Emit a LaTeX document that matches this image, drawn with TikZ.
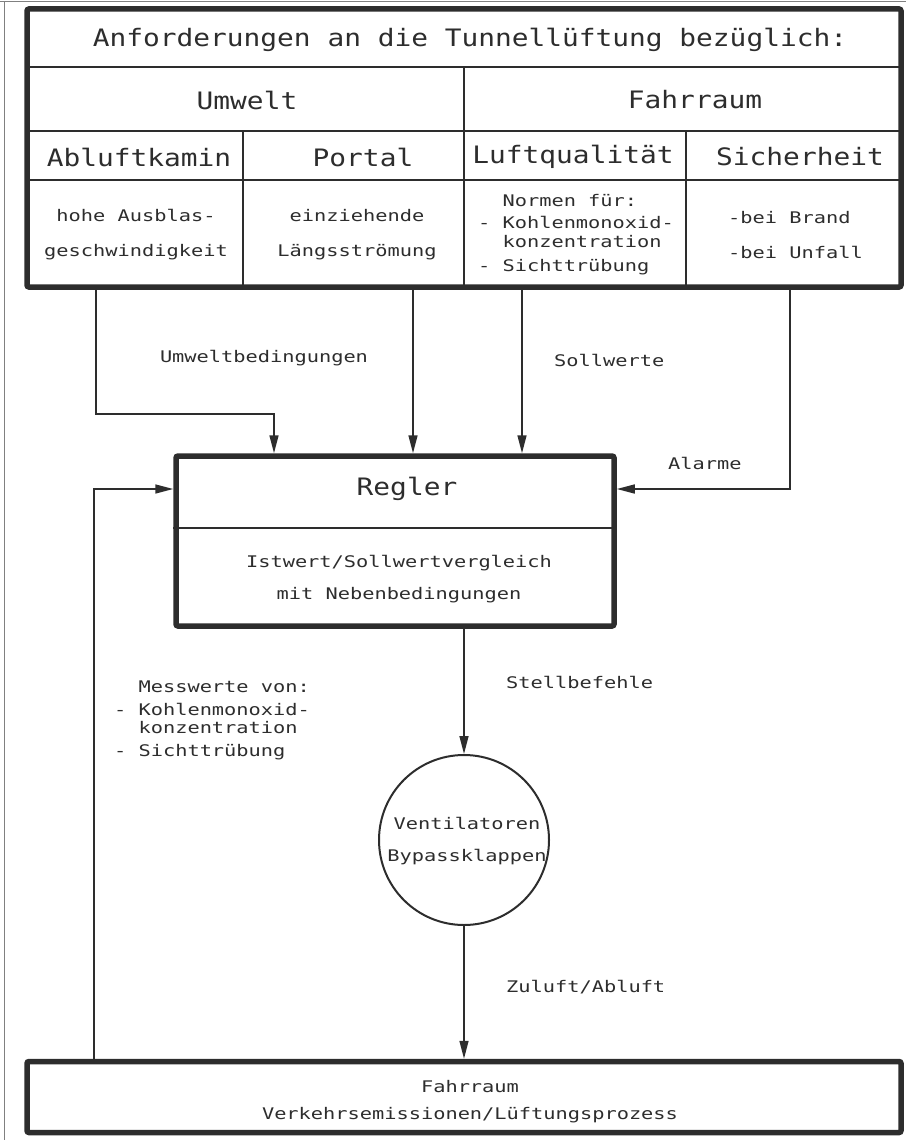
\documentclass[tikz,border=0pt]{standalone}
\usepackage{fontspec}
\setmainfont[FakeStretch=1.16]{DejaVu Sans Mono}
\newfontfamily\smallcad[FakeStretch=1.27]{DejaVu Sans Mono}
\usetikzlibrary{arrows.meta}

\definecolor{ink}{RGB}{45,45,45}

\tikzset{
  frame/.style={draw=ink, line width=5.5pt, rounded corners=2pt, inner sep=0pt},
  cell/.style={draw=ink, line width=2pt},
  conn/.style={draw=ink, line width=1.5pt},
  arr/.style={conn, -{Triangle[length=18pt,width=9pt]}},
  bigtxt/.style={inner sep=0pt, text=ink, font=\fontsize{24}{28}\selectfont},
  smalltxt/.style={inner sep=0pt, text=ink, align=center, font=\smallcad\fontsize{16}{19}\selectfont},
}

\begin{document}
\begin{tikzpicture}[x=1pt,y=1pt,yscale=-1]
\useasboundingbox (0,0) rectangle (906,1140);

%Shape: page border of the scan
\draw [color=gray, line width=1pt] (0,2) -- (906,2) (4,2) -- (4,1140) ;

%Shape: requirements table
\node [frame, minimum width=874pt, minimum height=278pt] (req) at (464,148) {};
\draw [cell] (27,67) -- (901,67) (27,131) -- (901,131) (27,180) -- (901,180) ;
\draw [cell] (464,67) -- (464,287) (243,131) -- (243,287) (686,131) -- (686,287) ;

% Text Node
\node [bigtxt] (title) at (470,40) {Anforderungen an die Tunnellüftung bezüglich:};
% Text Node
\node [bigtxt] (umwelt) at (247,100) {Umwelt};
\node [bigtxt] (fahrraum) at (695,100) {Fahrraum};
% Text Node
\node [bigtxt] (abluft) at (139,157) {Abluftkamin};
\node [bigtxt] (portal) at (363,157) {Portal};
\node [bigtxt] (luft) at (573,157) {Luftqualität};
\node [bigtxt] (sicher) at (800,157) {Sicherheit};
% Text Node
\node [smalltxt, font=\smallcad\fontsize{16}{35}\selectfont] (abltxt) at (136,235) {hohe Ausblas-\\geschwindigkeit};
\node [smalltxt, font=\smallcad\fontsize{16}{35}\selectfont] (portxt) at (357,235) {einziehende\\Längsströmung};
\node [smalltxt, align=left] (lufttxt) at (576,235) {\hphantom{- }Normen für:\\[3pt]- Kohlenmonoxid-\\\hphantom{- }konzentration\\[5pt]- Sichttrübung};
\node [smalltxt, align=left, font=\smallcad\fontsize{16}{35}\selectfont, anchor=west] (sichtxt) at (728,235) {-bei Brand\\-bei Unfall};

%Shape: Regler
\node [frame, minimum width=438pt, minimum height=170pt] (regler) at (395,541) {};
\draw [cell] (regler.west |- 0,528) -- (regler.east |- 0,528) ;
\node [bigtxt] (reglertxt) at (407,489) {Regler};
\node [smalltxt, font=\smallcad\fontsize{16}{32}\selectfont] (vergleich) at (399,579) {Istwert/Sollwertvergleich\\mit Nebenbedingungen};

%Shape: Ventilatoren
\node [circle, draw=ink, line width=2pt, minimum size=170pt, inner sep=0pt] (vent) at (464,840) {};
\node [smalltxt, font=\smallcad\fontsize{16}{32}\selectfont] (venttxt) at (467,841) {Ventilatoren\\Bypassklappen};

%Shape: Fahrraum
\node [frame, minimum width=874pt, minimum height=71pt] (road) at (464,1097) {};
\node [smalltxt, font=\smallcad\fontsize{16}{27}\selectfont] (roadtxt) at (470,1102) {Fahrraum\\Verkehrsemissionen/Lüftungsprozess};

%Straight Lines: connectors
\coordinate (uA) at (96,287) ;
\coordinate (pB) at (413,287) ;
\coordinate (lC) at (522,287) ;
\coordinate (sD) at (790,287) ;
\draw [arr] (uA) -- ++(0,127) -| ([xshift=-121pt]regler.north) ;
\draw [arr] (pB) -- ([xshift=18pt]regler.north) ;
\draw [arr] (lC) -- ([xshift=127pt]regler.north) ;
\draw [arr] (sD) |- ([yshift=-52pt]regler.east) ;
\draw [arr] ([xshift=-370pt]road.north) |- ([yshift=-52pt]regler.west) ;
\draw [arr] (regler.south -| vent.north) -- (vent.north) ;
\draw [arr] (vent.south) -- (vent.south |- road.north) ;

% Text Node
\node [smalltxt] (umwbed) at (264,358) {Umweltbedingungen};
\node [smalltxt, anchor=west] (soll) at (554,360) {Sollwerte};
\node [smalltxt, anchor=west] (alarm) at (668,463) {Alarme};
\node [smalltxt, anchor=west] (stell) at (506,682) {Stellbefehle};
\node [smalltxt, anchor=west] (zuab) at (506,987) {Zuluft/Abluft};
% Text Node
\node [smalltxt, align=left, font=\smallcad\fontsize{16}{18}\selectfont] (mess) at (212,720) {\hphantom{- }Messwerte von:\\[5pt]- Kohlenmonoxid-\\\hphantom{- }konzentration\\[5pt]- Sichttrübung};

\end{tikzpicture}
\end{document}
